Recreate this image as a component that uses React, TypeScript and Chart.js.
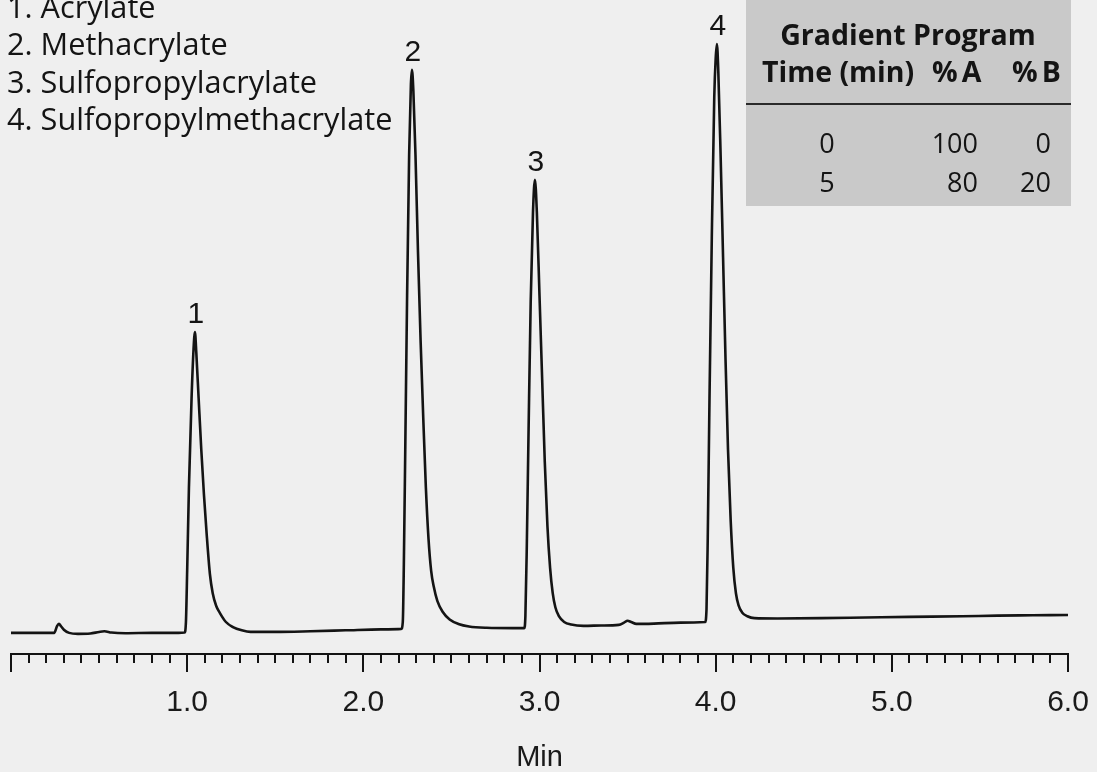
import { useEffect, useRef } from 'react';
import { Chart, registerables } from 'chart.js';

Chart.register(...registerables);

// Chromatogram trace (time in min, detector signal in arbitrary units)
const traceTimes = [
  0.0, 0.1, 0.2, 0.245, 0.262, 0.272, 0.285, 0.3, 0.33, 0.38, 0.45, 0.5, 0.53, 0.57, 0.65, 0.8, 0.95, 0.985,
  0.993, 1.0, 1.01, 1.025, 1.036, 1.044, 1.052, 1.065, 1.08, 1.095, 1.11, 1.129, 1.145, 1.165, 1.186, 1.22, 1.26, 1.31, 1.36,
  1.5, 1.7, 1.9, 2.1, 2.215,
  2.224, 2.23, 2.238, 2.248, 2.26, 2.27, 2.276, 2.284, 2.296, 2.31, 2.325, 2.34, 2.355, 2.37, 2.385, 2.4, 2.42, 2.45, 2.49, 2.54, 2.6, 2.7, 2.85, 2.913,
  2.92, 2.928, 2.938, 2.95, 2.963, 2.974, 2.985, 3.0, 3.015, 3.03, 3.045, 3.06, 3.075, 3.09, 3.11, 3.14, 3.18, 3.25, 3.35, 3.45, 3.48, 3.5, 3.52, 3.55, 3.65, 3.8, 3.94,
  3.948, 3.955, 3.965, 3.978, 3.992, 4.0, 4.007, 4.015, 4.028, 4.042, 4.056, 4.07, 4.085, 4.1, 4.115, 4.13, 4.15, 4.18, 4.22, 4.35, 4.6, 4.85, 5.1, 5.4, 5.6, 5.8, 6.0,
];
const traceSignal = [
  3.3, 3.3, 3.3, 3.3, 4.4, 4.7, 4.3, 3.8, 3.3, 3.15, 3.2, 3.45, 3.55, 3.35, 3.25, 3.3, 3.3, 3.35,
  5.0, 13, 26, 40, 47.5, 50.3, 47, 40, 32, 25, 19, 12.5, 9.5, 7.5, 6.4, 5.0, 4.2, 3.7, 3.45,
  3.45, 3.55, 3.7, 3.85, 3.9,
  5, 14, 32, 55, 78, 89, 91.3, 88, 78, 63, 49, 37, 26, 18, 13, 10.5, 8.3, 6.6, 5.4, 4.7, 4.3, 4.1, 4.05, 4.05,
  6, 17, 35, 55, 69, 74.1, 69, 56, 43, 30, 20, 13.5, 9.5, 7.3, 5.9, 5.0, 4.6, 4.4, 4.45, 4.55, 4.9, 5.2, 5.0, 4.7, 4.75, 4.9, 5.0,
  7, 18, 40, 65, 87, 93, 95.3, 91, 78, 62, 46, 32, 21, 13.5, 9.5, 7.6, 6.5, 5.9, 5.6, 5.55, 5.6, 5.7, 5.8, 5.9, 6.0, 6.05, 6.1,
];

const peakNumbers = ['1', '2', '3', '4'];
const peakTimes = [1.044, 2.276, 2.974, 4.007];
const peakHeights = [50.3, 91.3, 74.1, 95.3];

const compoundNames = ['Acrylate', 'Methacrylate', 'Sulfopropylacrylate', 'Sulfopropylmethacrylate'];

const gradientTitle = 'Gradient Program';
const gradientHeaders = ['Time (min)', '%A', '%B'];
const gradientTimes = [0, 5];
const gradientA = [100, 80];
const gradientB = [0, 20];

const xAxisTitle = 'Min';

const BG = '#efefef';
const INK = '#141414';

const decorPlugin = {
  id: 'decor',
  beforeDraw(chart: any) {
    const { ctx, width, height } = chart;
    ctx.save();
    ctx.fillStyle = BG;
    ctx.fillRect(0, 0, width, height);
    ctx.restore();
  },
  afterDraw(chart: any) {
    const { ctx } = chart;
    const xs = chart.scales.x;
    const ys = chart.scales.y;
    ctx.save();

    // axis ticks (minor every 0.1 min, major at whole minutes)
    ctx.strokeStyle = INK;
    ctx.lineWidth = 2;
    xs.ticks.forEach((t: any) => {
      const px = Math.round(xs.getPixelForValue(t.value));
      const major = Math.abs(t.value - Math.round(t.value)) < 1e-6;
      ctx.beginPath();
      ctx.moveTo(px, xs.top);
      ctx.lineTo(px, xs.top + (major ? 18 : 9));
      ctx.stroke();
    });

    // peak numbers
    ctx.fillStyle = INK;
    ctx.font = '30px "Liberation Sans", Arial, sans-serif';
    ctx.textAlign = 'center';
    ctx.textBaseline = 'alphabetic';
    peakNumbers.forEach((n, i) => {
      const px = xs.getPixelForValue(peakTimes[i]);
      const py = ys.getPixelForValue(peakHeights[i]);
      ctx.fillText(n, px + 1, py - 9);
    });

    // compound legend
    ctx.textAlign = 'left';
    ctx.font = '30.7px "Open Sans", "Noto Sans", sans-serif';
    compoundNames.forEach((name, i) => {
      ctx.fillText(`${i + 1}. ${name}`, 7, 18 + i * 37.3);
    });

    // gradient table
    const tx = 746, tw = 325, th = 206;
    ctx.fillStyle = '#c9c9c9';
    ctx.fillRect(tx, 0, tw, th);
    ctx.fillStyle = INK;
    ctx.font = 'bold 28.5px "Open Sans", "Noto Sans", sans-serif';
    ctx.textAlign = 'center';
    ctx.fillText(gradientTitle, 908, 45);
    ctx.textAlign = 'left';
    ctx.fillText(gradientHeaders[0], 762, 82);
    (ctx as any).letterSpacing = '4px';
    ctx.fillText(gradientHeaders[1], 932, 82);
    ctx.fillText(gradientHeaders[2], 1012, 82);
    (ctx as any).letterSpacing = '0px';
    ctx.strokeStyle = '#2a2a2a';
    ctx.lineWidth = 2;
    ctx.beginPath();
    ctx.moveTo(tx, 104);
    ctx.lineTo(tx + tw, 104);
    ctx.stroke();
    ctx.font = '27px "Open Sans", "Noto Sans", sans-serif';
    gradientTimes.forEach((t, i) => {
      const by = 153 + i * 39;
      ctx.textAlign = 'center';
      ctx.fillText(String(t), 827, by);
      ctx.textAlign = 'right';
      ctx.fillText(String(gradientA[i]), 978, by);
      ctx.fillText(String(gradientB[i]), 1051, by);
    });

    ctx.restore();
  },
};

export default function App() {
  const ref = useRef<HTMLCanvasElement | null>(null);

  useEffect(() => {
    if (!ref.current) return;
    const chart = new Chart(ref.current, {
      type: 'line',
      data: {
        datasets: [
          {
            data: traceTimes.map((t, i) => ({ x: t, y: traceSignal[i] })),
            borderColor: INK,
            borderWidth: 2.6,
            pointRadius: 0,
            fill: false,
            cubicInterpolationMode: 'monotone',
          },
        ],
      },
      options: {
        animation: false,
        responsive: false,
        maintainAspectRatio: false,
        layout: { padding: { left: 11, right: 29, top: 14, bottom: 0 } },
        plugins: {
          legend: { display: false },
          tooltip: { enabled: false },
        },
        scales: {
          x: {
            type: 'linear',
            min: 0,
            max: 6,
            grid: { display: false, drawTicks: true, tickLength: 34 },
            border: { display: true, color: INK, width: 2 },
            ticks: {
              stepSize: 0.1,
              autoSkip: false,
              maxRotation: 0,
              padding: 0,
              color: '#1a1a1a',
              font: { family: '"Liberation Sans", Arial, sans-serif', size: 30, lineHeight: 1 },
              callback: (v: any) => {
                const n = Number(v);
                return Math.abs(n - Math.round(n)) < 1e-6 && n > 0 ? n.toFixed(1) : '';
              },
            },
            title: {
              display: true,
              text: xAxisTitle,
              color: '#1a1a1a',
              font: { family: '"Liberation Sans", Arial, sans-serif', size: 29, lineHeight: 1 },
              padding: { top: 25, bottom: 0 },
            },
          },
          y: {
            type: 'linear',
            display: false,
            min: 0,
            max: 100,
          },
        },
      },
      plugins: [decorPlugin],
    });
    return () => chart.destroy();
  }, []);

  return (
    <div style={{ position: 'absolute', left: 0, top: 0, width: 1097, height: 772, background: BG }}>
      <canvas ref={ref} width={1097} height={772} style={{ width: 1097, height: 772, display: 'block' }} />
    </div>
  );
}
